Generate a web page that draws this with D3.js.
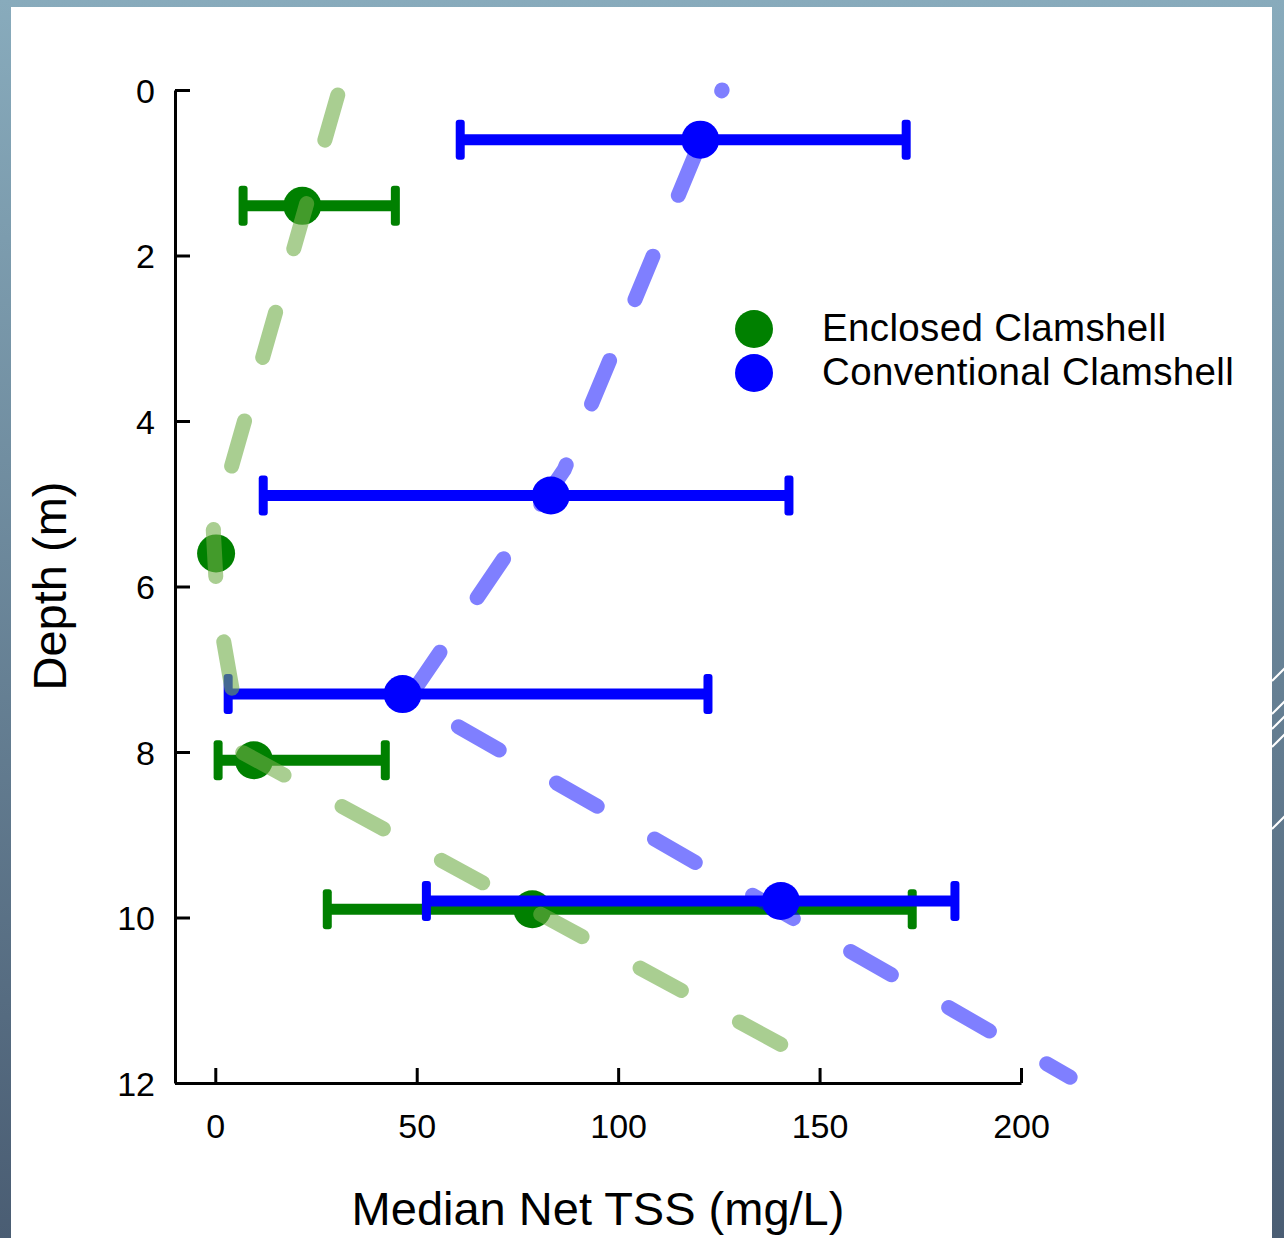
<!DOCTYPE html>
<html>
<head>
<meta charset="utf-8">
<script src="https://d3js.org/d3.v7.min.js"></script>
<style>
	body { margin: 0; }
	svg { display: block; font-family: "Liberation Sans", Arial, sans-serif; }
	.axis path, .axis line { stroke: #000; stroke-width: 3px; }
	.axis text { fill: #000; font-size: 34px; font-family: "Liberation Sans", Arial, sans-serif; }
	.title { font-size: 47px; fill: #000; }
	.legend text { font-size: 38.5px; fill: #000; letter-spacing: 0.35px; }
</style>
</head>
<body>
<svg class="chart" width="1284" height="1238"></svg>
<script>
// Enclosed clamshell (green)
var enclosedDepth = [1.4, 5.6, 8.1, 9.9];
var enclosedTSS   = [21.6, 0.2, 9.6, 78.7];
var enclosedLow   = [6.9, null, 0.7, 27.8];
var enclosedHigh  = [44.7, null, 42.2, 173.0];

// Conventional clamshell (blue)
var conventionalDepth = [0.6, 4.9, 7.3, 9.8];
var conventionalTSS   = [120.4, 83.3, 46.5, 140.4];
var conventionalLow   = [60.8, 11.9, 3.2, 52.4];
var conventionalHigh  = [171.5, 142.4, 122.3, 183.6];

// dashed trend lines: [TSS, depth]
var enclosedTrend     = [[30.4, 0.06], [-0.5, 5.32], [0.5, 6.22], [5.2, 7.53], [6.5, 8.0], [141, 11.55]];
var conventionalTrend = [[125.8, 0.0], [86.6, 4.59], [48.0, 7.35], [212.2, 11.93]];

var xTicks = [0, 50, 100, 150, 200];
var yTicks = [0, 2, 4, 6, 8, 10, 12];

var svg = d3.select(".chart");

// slide background + white panel
var defs = svg.append("defs");
var grad = defs.append("linearGradient").attr("id", "bg").attr("x1", 0).attr("y1", 0).attr("x2", 0).attr("y2", 1);
grad.append("stop").attr("offset", "0%").attr("stop-color", "#88abbc");
grad.append("stop").attr("offset", "100%").attr("stop-color", "#4a5d73");
svg.append("rect").attr("width", 1284).attr("height", 1238).attr("fill", "url(#bg)");
svg.append("rect").attr("x", 11).attr("y", 7).attr("width", 1261).attr("height", 1240).attr("fill", "#fff");

// little white slashes on right edge
[667, 700, 715, 733, 815].forEach(function(yy) {
	svg.append("line").attr("x1", 1272).attr("y1", yy + 14).attr("x2", 1286).attr("y2", yy)
		.attr("stroke", "#fff").attr("stroke-width", 2);
});

var x = d3.scaleLinear().domain([-10, 200]).range([175, 1021]);
var y = d3.scaleLinear().domain([0, 12]).range([90, 1083]);

// axes
var xAxis = svg.append("g").attr("class", "axis").attr("transform", "translate(0,1083)")
	.call(d3.axisBottom(x).tickValues(xTicks).tickSizeInner(-15).tickSizeOuter(0));
xAxis.selectAll("text").attr("y", 55).attr("dy", null);

var yAxis = svg.append("g").attr("class", "axis").attr("transform", "translate(175,0)")
	.call(d3.axisLeft(y).tickValues(yTicks).tickSizeInner(-15).tickSizeOuter(0).tickPadding(20));
yAxis.selectAll("text").attr("dy", "0.36em");

svg.append("text").attr("class", "title")
	.attr("x", 598).attr("y", 1225).attr("text-anchor", "middle")
	.text("Median Net TSS (mg/L)");
svg.append("text").attr("class", "title")
	.attr("transform", "translate(66,586) rotate(-90)").attr("text-anchor", "middle")
	.text("Depth (m)");

var line = d3.line().x(function(d) { return x(d[0]); }).y(function(d) { return y(d[1]); });

function drawSeries(depth, tss, low, high, color) {
	var g = svg.append("g");
	depth.forEach(function(d, i) {
		if (low[i] != null) {
			g.append("line")
				.attr("x1", x(low[i])).attr("x2", x(high[i]))
				.attr("y1", y(d)).attr("y2", y(d))
				.attr("stroke", color).attr("stroke-width", 11);
			[low[i], high[i]].forEach(function(v) {
				g.append("rect")
					.attr("x", x(v) - 4.5).attr("y", y(d) - 20)
					.attr("width", 9).attr("height", 40).attr("rx", 3)
					.attr("fill", color);
			});
		}
		g.append("circle").attr("cx", x(tss[i])).attr("cy", y(d)).attr("r", 19).attr("fill", color);
	});
}

function drawTrend(data, color, opacity, offset) {
	svg.append("path").datum(data)
		.attr("d", line)
		.attr("fill", "none")
		.attr("stroke", color).attr("stroke-opacity", opacity)
		.attr("stroke-width", 15)
		.attr("stroke-linecap", "round").attr("stroke-linejoin", "round")
		.attr("stroke-dasharray", "47,66")
		.attr("stroke-dashoffset", offset);
}

drawSeries(enclosedDepth, enclosedTSS, enclosedLow, enclosedHigh, "#008000");
drawTrend(conventionalTrend, "#0000ff", 0.5, 46);
drawSeries(conventionalDepth, conventionalTSS, conventionalLow, conventionalHigh, "#0000ff");
drawTrend(enclosedTrend, "#70ad47", 0.6, 0);

// legend
var legendNames = ["Enclosed Clamshell", "Conventional Clamshell"];
var legendColors = ["#008000", "#0000ff"];
var legend = svg.append("g").attr("class", "legend");
legendNames.forEach(function(name, i) {
	legend.append("circle").attr("cx", 754).attr("cy", 329 + i * 44).attr("r", 19).attr("fill", legendColors[i]);
	legend.append("text").attr("x", 822).attr("y", 341 + i * 44).text(name);
});
</script>
</body>
</html>
